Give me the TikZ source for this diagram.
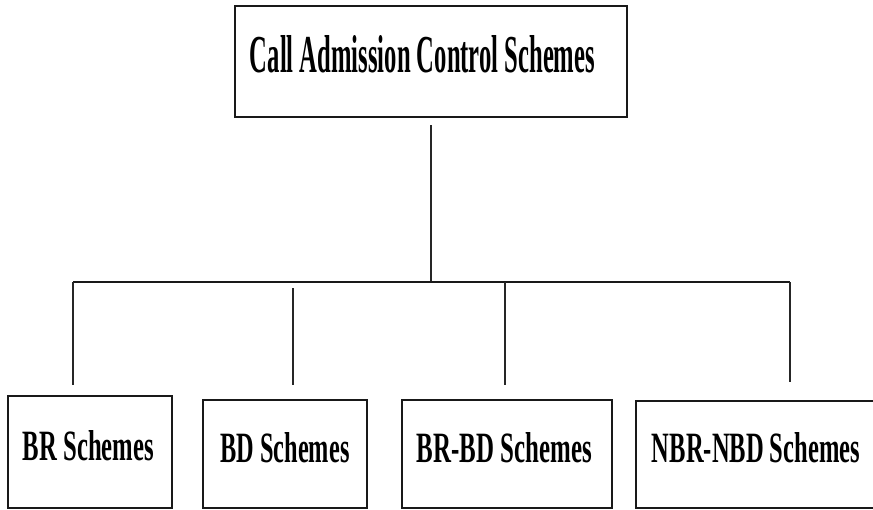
\documentclass[tikz,border=0pt]{standalone}
\usepackage{fontspec}
\setmainfont{Liberation Serif}
\usepackage{graphicx}
\begin{document}
\begin{tikzpicture}[x=1pt,y=-1pt,
  box/.style={draw=black!90, line width=1.8pt, inner sep=0pt, outer sep=0pt,
              anchor=north west, align=center, font=\bfseries},
  bottombox/.style={box, text height=30pt, text depth=14pt},
  conn/.style={draw=black!85, line width=1.5pt},
  bus/.style={draw=black!90, line width=2.4pt}]
\useasboundingbox (0,0) rectangle (873,509);
% top box
\node[box, minimum width=392pt, minimum height=111pt,
      text height=37pt, text depth=16pt] (top) at (235,6)
  {\resizebox{345pt}{37pt}{Call Admission Control Schemes}\hspace*{17pt}};
% bottom boxes
\node[bottombox, minimum width=164pt, minimum height=112pt] (br) at (8,396)
  {\resizebox{131pt}{30pt}{BR Schemes}\hspace*{3pt}};
\node[bottombox, minimum width=164pt, minimum height=108pt] (bd) at (203,400)
  {\resizebox{129pt}{30pt}{BD Schemes}};
\node[bottombox, minimum width=210pt, minimum height=108pt] (brbd) at (402,400)
  {\resizebox{175pt}{30pt}{BR-BD Schemes}\hspace*{5pt}};
\node[bottombox, minimum width=240pt, minimum height=107pt] (nbr) at (636,401)
  {\resizebox{208pt}{30pt}{NBR-NBD Schemes}};
% connector points
\coordinate (hub) at (431,282);
\coordinate (jBR) at (73,282);
\coordinate (jBD) at (293,282);
\coordinate (jBRBD) at (505,282);
\coordinate (jNBR) at (790,282);
% connectors
\draw[conn, shorten <=8pt] (top) -- (hub);
\draw[bus] (jBR) -- (jNBR);
\draw[conn, shorten >=11pt] (jBR) -- (jBR |- br.north);
\draw[conn, shorten <=6pt, shorten >=15pt] (jBD) -- (jBD |- bd.north);
\draw[conn, shorten >=15pt] (jBRBD) -- (jBRBD |- brbd.north);
\draw[conn, shorten >=19pt] (jNBR) -- (jNBR |- nbr.north);
\end{tikzpicture}
\end{document}
